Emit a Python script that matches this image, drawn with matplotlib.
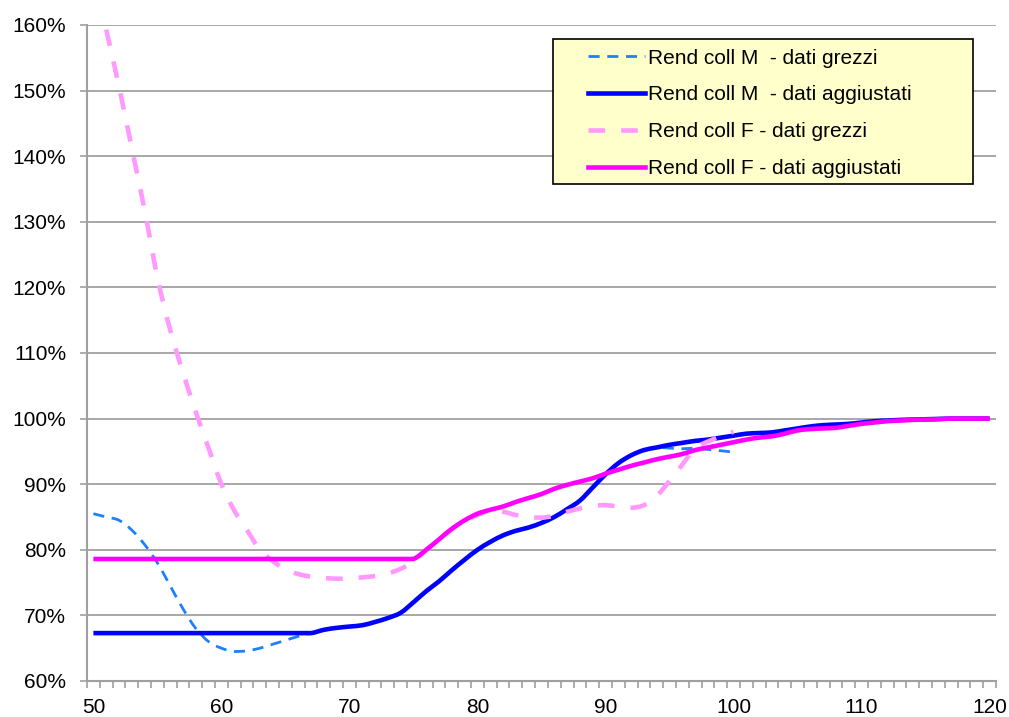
import matplotlib
matplotlib.use("Agg")
import matplotlib.pyplot as plt
import numpy as np
from matplotlib.patches import Rectangle, PathPatch
from matplotlib.path import Path
from matplotlib.lines import Line2D
from matplotlib.ticker import FixedLocator, FuncFormatter

plt.rcParams['font.family'] = ['Liberation Sans', 'DejaVu Sans']
plt.rcParams['lines.scale_dashes'] = False

# Età (anni)
ages_full = list(range(50, 121))
ages_raw_m = list(range(50, 101))
ages_raw_f = list(range(51, 101))

# Rendimento collettivo maschi - dati grezzi (%)
raw_m = [85.5, 85.0, 84.5, 83.0, 80.8, 78.0, 74.5, 71.0, 68.0, 66.0,
         65.0, 64.5, 64.6, 65.0, 65.6, 66.2, 66.8, 67.3, 67.8, 68.1,
         68.3, 68.5, 69.0, 69.6, 70.4, 72.0, 73.7, 75.2, 76.9, 78.5,
         80.0, 81.2, 82.2, 82.9, 83.4, 84.1, 85.0, 86.2, 87.5, 89.5,
         91.5, 93.2, 94.4, 95.2, 95.6, 95.5, 95.4, 95.5, 95.3, 95.1,
         94.9]

# Rendimento collettivo maschi - dati aggiustati (%)
adj_m = [67.3] * 18 + [
         67.8, 68.1, 68.3, 68.5, 69.0, 69.6, 70.4, 72.0, 73.7, 75.2,
         76.9, 78.5, 80.0, 81.2, 82.2, 82.9, 83.4, 84.1, 85.0, 86.2,
         87.5, 89.5, 91.5, 93.2, 94.4, 95.2, 95.6, 96.0, 96.3, 96.6,
         96.8, 97.1, 97.4, 97.7, 97.8, 97.9, 98.2, 98.5, 98.8, 99.0,
         99.1, 99.2, 99.4, 99.6, 99.7, 99.8, 99.85, 99.9, 99.95, 100.0,
         100.0, 100.0, 100.0]

# Rendimento collettivo femmine - dati grezzi (%)
raw_f = [159.3, 150.6, 141.2, 131.8, 121.5, 113.5, 107.0, 101.0, 95.5, 90.0,
         86.0, 83.0, 80.0, 78.3, 77.0, 76.3, 75.9, 75.7, 75.6, 75.6,
         75.8, 76.0, 76.4, 77.1, 78.2, 80.0, 81.6, 83.2, 84.4, 85.3,
         86.0, 85.8, 85.3, 85.0, 84.9, 85.2, 85.8, 86.3, 86.7, 86.8,
         86.6, 86.4, 86.8, 88.2, 90.5, 93.0, 95.5, 96.5, 97.3, 98.0]

# Rendimento collettivo femmine - dati aggiustati (%)
adj_f = [78.6] * 26 + [
         80.0, 81.6, 83.2, 84.5, 85.5, 86.1, 86.6, 87.3, 87.9, 88.5,
         89.3, 89.9, 90.4, 90.9, 91.6, 92.2, 92.8, 93.3, 93.8, 94.2,
         94.6, 95.2, 95.6, 96.0, 96.4, 96.8, 97.1, 97.3, 97.7, 98.2,
         98.4, 98.5, 98.6, 98.9, 99.2, 99.4, 99.6, 99.7, 99.8, 99.85,
         99.9, 100.0, 100.0, 100.0, 100.0]

labels = ["Rend coll M  - dati grezzi", "Rend coll M  - dati aggiustati",
          "Rend coll F - dati grezzi", "Rend coll F - dati aggiustati"]


def smooth_path(xs, ys):
    """Curva liscia (Bezier cubiche alla Catmull-Rom) passante per i punti,
    con i punti di controllo limitati per non superare gli estremi del tratto."""
    p = np.column_stack([xs, ys]).astype(float)
    ext = np.vstack([p[0], p, p[-1]])
    verts = [p[0]]
    codes = [Path.MOVETO]
    for i in range(len(p) - 1):
        p0, p1, p2, p3 = ext[i], ext[i + 1], ext[i + 2], ext[i + 3]
        c1 = p1 + (p2 - p0) / 6.0
        c2 = p2 - (p3 - p1) / 6.0
        lo, hi = min(p1[1], p2[1]), max(p1[1], p2[1])
        c1[1] = min(max(c1[1], lo), hi)
        c2[1] = min(max(c2[1], lo), hi)
        verts += [c1, c2, p2]
        codes += [Path.CURVE4] * 3
    return Path(verts, codes)


def add_series(ax, xs, ys, **style):
    patch = PathPatch(smooth_path(xs, ys), facecolor='none', capstyle='butt',
                      joinstyle='round', **style)
    ax.add_patch(patch)
    return patch


W, H = 1009, 717
fig = plt.figure(figsize=(W / 100, H / 100), dpi=100)
ax = fig.add_axes([87 / W, 1 - 681 / H, (996 - 87) / W, (681 - 25) / H])

grid_c = '#A0A0A0'
styles = [
    dict(edgecolor='#1E80FF', lw=2.0, linestyle=(0, (8, 5.5)), zorder=3),
    dict(edgecolor='#0000FF', lw=3.3, linestyle='-', zorder=4),
    dict(edgecolor='#FF99FF', lw=3.3, linestyle=(0, (12, 11.5)), zorder=5),
    dict(edgecolor='#FF00FF', lw=3.3, linestyle='-', zorder=6),
]
series = [(ages_raw_m, raw_m), (ages_full, adj_m),
          (ages_raw_f, raw_f), (ages_full, adj_f)]
handles = []
for (xs, ys), st in zip(series, styles):
    add_series(ax, xs, ys, **st)
    handles.append(Line2D([], [], color=st['edgecolor'], lw=st['lw'],
                          linestyle=st['linestyle'],
                          dash_capstyle='butt'))

ax.set_xlim(49.5, 120.5)
ax.set_ylim(60, 160)

ax.xaxis.set_major_locator(FixedLocator(list(range(50, 121, 10))))
ax.xaxis.set_minor_locator(FixedLocator([49.5 + k for k in range(72)]))
ax.tick_params(axis='x', which='major', length=0, pad=12, labelsize=15)
ax.tick_params(axis='x', which='minor', length=5, width=1.2, color=grid_c,
               direction='out')
ax.yaxis.set_major_locator(FixedLocator(list(range(60, 161, 10))))
ax.yaxis.set_major_formatter(FuncFormatter(lambda v, p: f"{v:.0f}%"))
ax.tick_params(axis='y', which='major', length=5, width=1.2, color=grid_c,
               direction='out', pad=10, labelsize=15)

ax.grid(axis='y', color=grid_c, lw=1.3)
ax.set_axisbelow(True)
for s in ('top', 'right'):
    ax.spines[s].set_visible(False)
for s in ('left', 'bottom'):
    ax.spines[s].set_color(grid_c)
    ax.spines[s].set_linewidth(1.5)

# Riquadro della legenda
fig.patches.append(Rectangle((553 / W, 1 - 184 / H), 420 / W, 145 / H,
                             transform=fig.transFigure, facecolor='#FFFFCC',
                             edgecolor='black', lw=1.2, zorder=10))
leg = fig.legend(handles, labels, loc='upper left',
                 bbox_to_anchor=(588 / W, 1 - 48.5 / H), frameon=False,
                 fontsize=15, handlelength=2.75, handletextpad=0.15,
                 labelspacing=0.86, borderpad=0, borderaxespad=0)
leg.set_zorder(11)

fig.savefig('out.png', dpi=100)
